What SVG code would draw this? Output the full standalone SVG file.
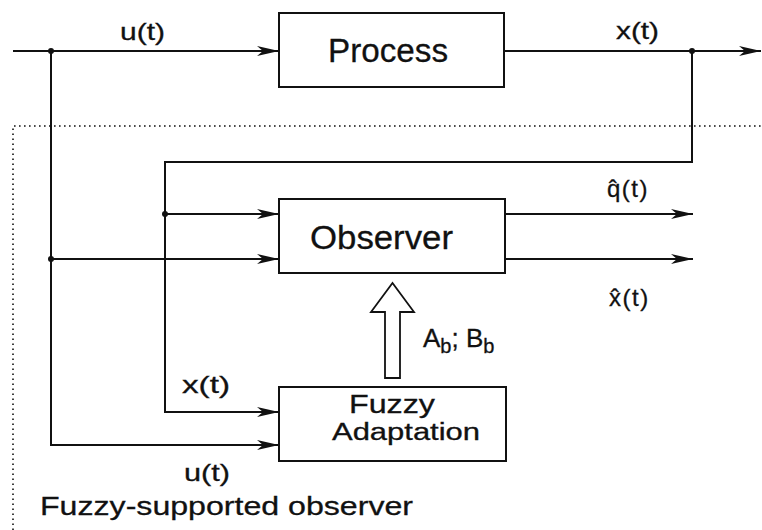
<svg xmlns="http://www.w3.org/2000/svg" width="762" height="530" viewBox="0 0 762 530">
  <style>
    .box { fill: #fff; stroke: #111; stroke-width: 2; }
    .ln { fill: none; stroke: #111; stroke-width: 2; }
    .arr { fill: none; stroke: #111; stroke-width: 2; marker-end: url(#ah); }
    .dot { fill: #111; }
    .bound { fill: none; stroke: #111; stroke-width: 1.6; stroke-dasharray: 1.6 3.4; }
    text { font-family: "Liberation Sans", Arial, sans-serif; fill: #111; stroke: #111; stroke-width: 0.3; }
  </style>
  <defs>
    <marker id="ah" markerUnits="userSpaceOnUse" markerWidth="24" markerHeight="12" refX="22" refY="5" orient="auto">
      <path d="M0,0 L22,5 L0,10 L6,5 z" fill="#111"/>
    </marker>
  </defs>
  <rect width="762" height="530" fill="#fff"/>

  <g id="boundary">
    <path class="bound" d="M13,530 V126 H762"/>
    <text x="40" y="515" font-size="26" textLength="373" lengthAdjust="spacingAndGlyphs">Fuzzy-supported observer</text>
  </g>

  <g id="connectors">
    <path class="arr" d="M13,51 H279"/>
    <path class="arr" d="M504,51 H761"/>
    <path class="arr" d="M692,51 V162 H165 V412 H279"/>
    <path class="arr" d="M165,214 H279"/>
    <path class="arr" d="M51,51 V445 H279"/>
    <path class="arr" d="M51,259 H279"/>
    <path class="arr" d="M505,214 H693"/>
    <path class="arr" d="M505,259 H693"/>
    <circle class="dot" cx="51" cy="51" r="3"/>
    <circle class="dot" cx="692" cy="51" r="3"/>
    <circle class="dot" cx="165" cy="214" r="3"/>
    <circle class="dot" cx="51" cy="259" r="3"/>
    <polygon id="param-arrow" points="385,378 385,312 371,312 392.5,283 414,312 400,312 400,378" fill="#fff" stroke="#111" stroke-width="1.8"/>
    <text x="120" y="40" font-size="24" textLength="45" lengthAdjust="spacingAndGlyphs">u(t)</text>
    <text x="616" y="39" font-size="24" textLength="43" lengthAdjust="spacingAndGlyphs">x(t)</text>
    <text x="607" y="197" font-size="24" letter-spacing="1.5">q̂(t)</text>
    <text x="609" y="306" font-size="24" letter-spacing="1.5">x̂(t)</text>
    <text x="423" y="347" font-size="26">A<tspan font-size="20" dy="6">b</tspan><tspan dy="-6">; B</tspan><tspan font-size="20" dy="6">b</tspan></text>
    <text x="182" y="393" font-size="24" textLength="48" lengthAdjust="spacingAndGlyphs">x(t)</text>
    <text x="184" y="481" font-size="24" textLength="46" lengthAdjust="spacingAndGlyphs">u(t)</text>
  </g>

  <g id="process">
    <rect class="box" x="279" y="13" width="225" height="74"/>
    <text x="328" y="62" font-size="33" textLength="120" lengthAdjust="spacingAndGlyphs">Process</text>
  </g>

  <g id="observer">
    <rect class="box" x="279" y="199" width="226" height="74"/>
    <text x="310" y="249" font-size="33" textLength="143" lengthAdjust="spacingAndGlyphs">Observer</text>
  </g>

  <g id="fuzzy">
    <rect class="box" x="279" y="387" width="227" height="74"/>
    <text x="349" y="413" font-size="25" textLength="86" lengthAdjust="spacingAndGlyphs">Fuzzy</text>
    <text x="332" y="440" font-size="23" textLength="148" lengthAdjust="spacingAndGlyphs">Adaptation</text>
  </g>
</svg>
